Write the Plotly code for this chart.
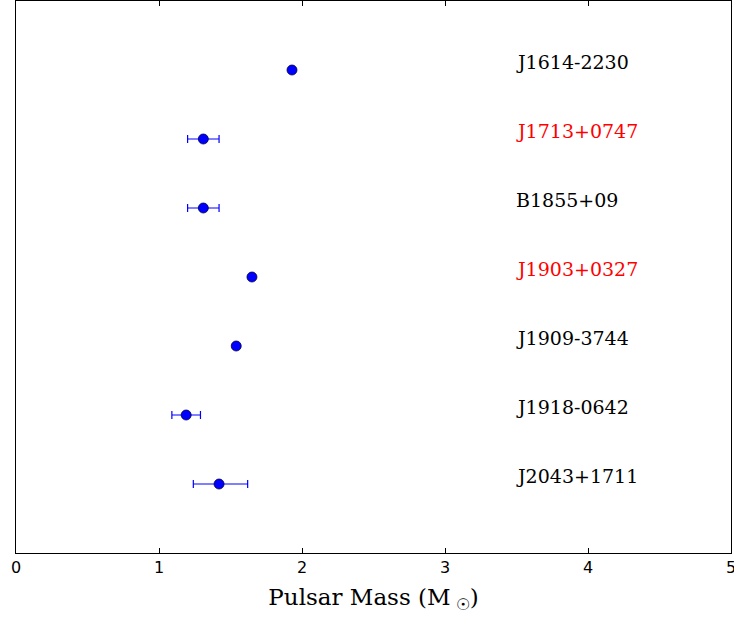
import plotly.graph_objects as go

pulsars = ["J1614-2230", "J1713+0747", "B1855+09", "J1903+0327", "J1909-3744", "J1918-0642", "J2043+1711"]
masses = [1.93, 1.31, 1.31, 1.65, 1.54, 1.19, 1.42]
err_plus = [0.0, 0.11, 0.11, 0.0, 0.0, 0.10, 0.20]
err_minus = [0.0, 0.11, 0.11, 0.0, 0.0, 0.10, 0.18]
label_colors = ["black", "red", "black", "red", "black", "black", "black"]
ypos = [7, 6, 5, 4, 3, 2, 1]
label_x = 3.5

fig = go.Figure()
fig.add_trace(go.Scatter(
    x=masses, y=ypos, mode="markers",
    marker=dict(color="#0000ff", size=10, line=dict(color="#000044", width=0.8)),
    error_x=dict(type="data", symmetric=False, array=err_plus, arrayminus=err_minus,
                 color="#0000ff", thickness=1.2, width=4),
    showlegend=False,
))

for name, y, c in zip(pulsars, ypos, label_colors):
    fig.add_annotation(x=label_x, y=y, xref="x", yref="y", text=name,
                       showarrow=False, xanchor="left", yanchor="middle",
                       xshift=-3, yshift=8,
                       font=dict(family="DejaVu Serif", size=19, color=c))

fig.update_layout(
    width=734, height=619,
    margin=dict(l=16, r=3, t=1, b=66),
    paper_bgcolor="white", plot_bgcolor="white",
    xaxis=dict(range=[0, 5], tickvals=[0, 1, 2, 3, 4, 5], ticks="inside", ticklen=5,
               tickcolor="black", showgrid=False, zeroline=False, automargin=False,
               ticklabeloverflow="allow",
               showline=True, linecolor="black", linewidth=1.2, mirror="ticks",
               tickfont=dict(family="DejaVu Sans", size=16, color="black"),
               title=dict(text="Pulsar Mass (M<sub> ☉</sub>)", standoff=12,
                          font=dict(family="DejaVu Serif", size=23, color="black"))),
    yaxis=dict(range=[0, 8], showticklabels=False, ticks="", showgrid=False, zeroline=False,
               automargin=False,
               showline=True, linecolor="black", linewidth=1.2, mirror=True),
)

post = ("document.body.style.margin='0';document.body.style.overflow='hidden';"
        "Plotly.relayout('{plot_id}', {width:734, height:619});")
fig.write_html("out.html", post_script=post,
               config={"responsive": False, "displayModeBar": False})
